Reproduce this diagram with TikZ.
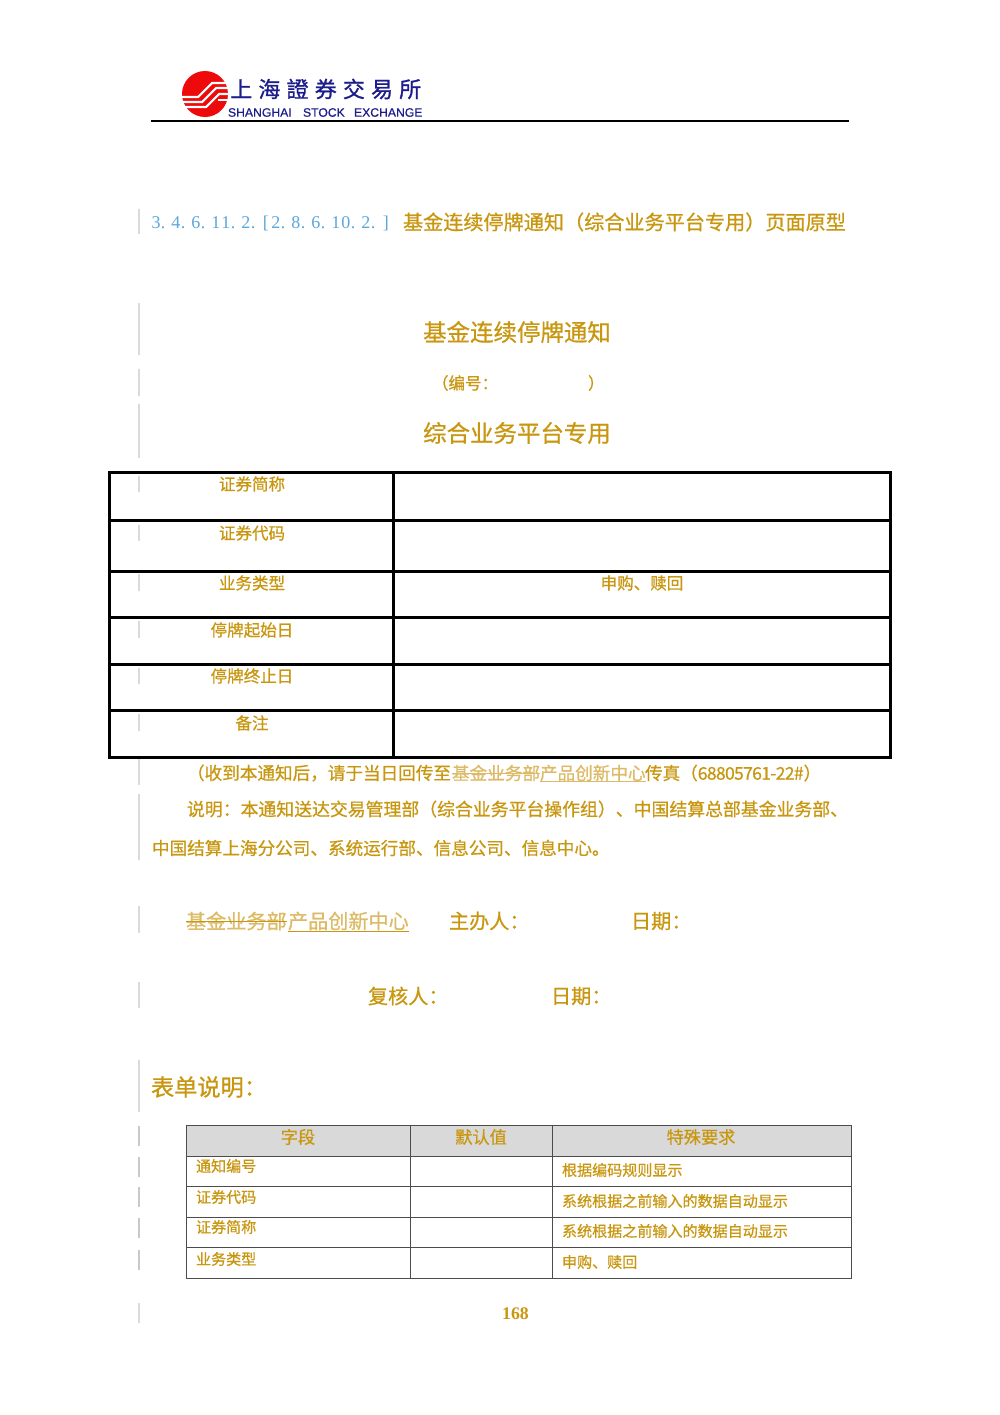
\documentclass[tikz,border=0pt]{standalone}
\usepackage{fontspec}
\setmainfont{Noto Sans CJK SC}[FakeBold=0.7]
\newfontfamily\logocjk[LetterSpace=28,FakeBold=1]{Noto Sans CJK TC}
\newfontfamily\numfont{Liberation Serif}
\newfontfamily\pagefont{Liberation Serif}[BoldFont=Liberation Serif Bold]
\newfontfamily\engfont{Liberation Sans}[FakeBold=0.5]
\definecolor{gold}{HTML}{C9970F}
\definecolor{goldlight}{HTML}{DDBB66}
\definecolor{numblue}{HTML}{5BA7DC}
\definecolor{logoblue}{HTML}{1C1C8C}
\definecolor{logored}{HTML}{EE0A0A}
\definecolor{barcol}{HTML}{DADADA}
\definecolor{headgray}{HTML}{D9D9D9}
\newcommand{\nd}[1]{\makebox[7.5pt][c]{#1}}
\newcommand{\np}{\makebox[7.5pt][l]{.}}
\tikzset{
  txt/.style={inner sep=0pt,outer sep=0pt,text=gold},
  big/.style={txt,font=\fontsize{17.6}{20}\selectfont},
  mid/.style={txt,font=\fontsize{15.1}{18}\selectfont},
  cell/.style={txt,font=\fontsize{12.4}{15}\selectfont},
  para/.style={txt,font=\fontsize{13.2}{16}\selectfont},
  small/.style={txt,font=\fontsize{11.3}{14}\selectfont},
  head/.style={txt,font=\fontsize{12.9}{15}\selectfont},
  gone/.style={text=goldlight},
  bar/.style={barcol,line width=0.9pt},
  thickrule/.style={black,line width=2.25pt},
  thinrule/.style={black!70,line width=0.75pt},
  engl/.style={inner sep=0pt,outer sep=0pt,text=logoblue,font=\engfont\fontsize{9.15}{11}\selectfont},
}
\begin{document}
\begin{tikzpicture}[x=0.75pt,y=-0.75pt]
\useasboundingbox (0,0) rectangle (1000,1415);
\fill[white] (0,0) rectangle (1000,1415);
% logo
\fill[logored] (205,94) circle (23);
\draw[white,line width=1.6pt] (181,97) -- (198,97) -- (212,83) -- (229,83);
\draw[white,line width=1.6pt] (181,102) -- (202,102) -- (216,88) -- (229,88);
\draw[white,line width=1.6pt] (184,107) -- (206,107) -- (219,94) -- (229,94);
\draw[white,line width=1.1pt] (218,100) -- (229,100);
\node[inner sep=0pt,anchor=west,text=logoblue,font=\logocjk\fontsize{16.5}{18}\selectfont] (logoname) at (230,89) {上海證券交易所};
\node[engl,anchor=west] (logoa) at (228,112.5) {SHANGHAI};
\node[engl,anchor=west] (logob) at (303,112.5) {STOCK};
\node[engl,anchor=west] (logoc) at (354,112.5) {EXCHANGE};
\draw[black,line width=0.9pt] (151,121) -- (849,121);
% change bars
\foreach \a/\b in {209/234,303/355,369/396,404/458,476/492,525/541,574/591,621/638,668/684,714/731,758/785,794/860,906/933,982/1008,1060/1112}
  \draw[bar] (139,\a) -- (139,\b);
\foreach \a/\b in {1126/1146,1157/1177,1187/1207,1218/1238,1250/1270}
  \draw[bar,barcol!92!black] (139,\a) -- (139,\b);
\draw[bar] (139,1303) -- (139,1323);
% heading
\node[txt,anchor=west,text=numblue,font=\numfont\fontsize{13.5}{15}\selectfont] (num) at (151,223) {\nd{3}\np\nd{4}\np\nd{6}\np\nd{1}\nd{1}\np\nd{2}\np\nd{[}\nd{2}\np\nd{8}\np\nd{6}\np\nd{1}\nd{0}\np\nd{2}\np\nd{]}};
\node[mid,anchor=west] (title) at (403,222) {基金连续停牌通知（综合业务平台专用）页面原型};
\node[big] (t1) at (517,332) {基金连续停牌通知};
\node[cell,anchor=west] (t2a) at (432,383) {（编号：};
\node[cell,anchor=west] (t2b) at (588,383) {）};
\node[big] (t3) at (517,433) {综合业务平台专用};
% main table
\draw[thickrule] (109,472) rectangle (890,757);
\foreach \y in {520,571,617,664,710} \draw[thickrule] (109,\y) -- (890,\y);
\draw[thickrule] (393,472) -- (393,757);
\node[cell] (r1) at (252,484) {证券简称};
\node[cell] (r2) at (252,533) {证券代码};
\node[cell] (r3) at (252,583) {业务类型};
\node[cell] (r3b) at (642,583) {申购、赎回};
\node[cell] (r4) at (252,630) {停牌起始日};
\node[cell] (r5) at (252,676) {停牌终止日};
\node[cell] (r6) at (252,723) {备注};
% paragraph
\node[para,anchor=west] (p1a) at (187,773) {（收到本通知后，请于当日回传至};
\node[para,gone,anchor=west] (p1b) at (452,773) {基金业务部};
\node[para,gone,anchor=west] (p1c) at (540,773) {产品创新中心};
\node[para,anchor=west] (p1d) at (645,773) {传真（{\addfontfeatures{LetterSpace=-4}68805761-22\#}）};
\draw[goldlight,line width=0.7pt] (p1b.west) -- (p1b.east);
\draw[goldlight,line width=0.7pt] ([yshift=-6.5pt]p1c.west) -- ([yshift=-6.5pt]p1c.east);
\node[txt,anchor=west,font=\fontsize{13.4}{16}\selectfont] (p2) at (187,809) {说明：本通知送达交易管理部（综合业务平台操作组）、中国结算总部基金业务部、};
\node[para,anchor=west] (p3) at (152,848) {中国结算上海分公司、系统运行部、信息公司、信息中心。};
% signatures
\node[mid,gone,anchor=west] (s1a) at (186,921) {基金业务部};
\node[mid,gone,anchor=west] (s1b) at (288,921) {产品创新中心};
\draw[gold,line width=0.7pt] (s1a.west) -- (s1a.east);
\draw[gold,line width=0.7pt] ([yshift=-8pt]s1b.west) -- ([yshift=-8pt]s1b.east);
\node[mid,anchor=west] (s2) at (449,921) {主办人：};
\node[mid,anchor=west] (s3) at (631,921) {日期：};
\node[mid,anchor=west] (s4) at (368,996) {复核人：};
\node[mid,anchor=west] (s5) at (551,996) {日期：};
\node[txt,anchor=west,font=\fontsize{17.4}{20}\selectfont] (form) at (151,1087) {表单说明：};
% form table
\fill[headgray] (186,1125) rectangle (851,1156);
\draw[thinrule] (186,1125) rectangle (851,1278);
\foreach \y in {1156,1186,1217,1247} \draw[thinrule] (186,\y) -- (851,\y);
\foreach \x in {410,552} \draw[thinrule] (\x,1125) -- (\x,1278);
\node[head] (h1) at (298,1137) {字段};
\node[head] (h2) at (481,1137) {默认值};
\node[head] (h3) at (701,1137) {特殊要求};
\node[small,anchor=west] (a1) at (196,1166) {通知编号};
\node[small,anchor=west] (a2) at (196,1197) {证券代码};
\node[small,anchor=west] (a3) at (196,1227) {证券简称};
\node[small,anchor=west] (a4) at (196,1259) {业务类型};
\node[small,anchor=west] (b1) at (562,1170) {根据编码规则显示};
\node[small,anchor=west] (b2) at (562,1201) {系统根据之前输入的数据自动显示};
\node[small,anchor=west] (b3) at (562,1231) {系统根据之前输入的数据自动显示};
\node[small,anchor=west] (b4) at (562,1262) {申购、赎回};
\node[txt,font=\pagefont\bfseries\fontsize{13.3}{15}\selectfont] (pg) at (515.5,1313.5) {168};
\end{tikzpicture}
\end{document}
